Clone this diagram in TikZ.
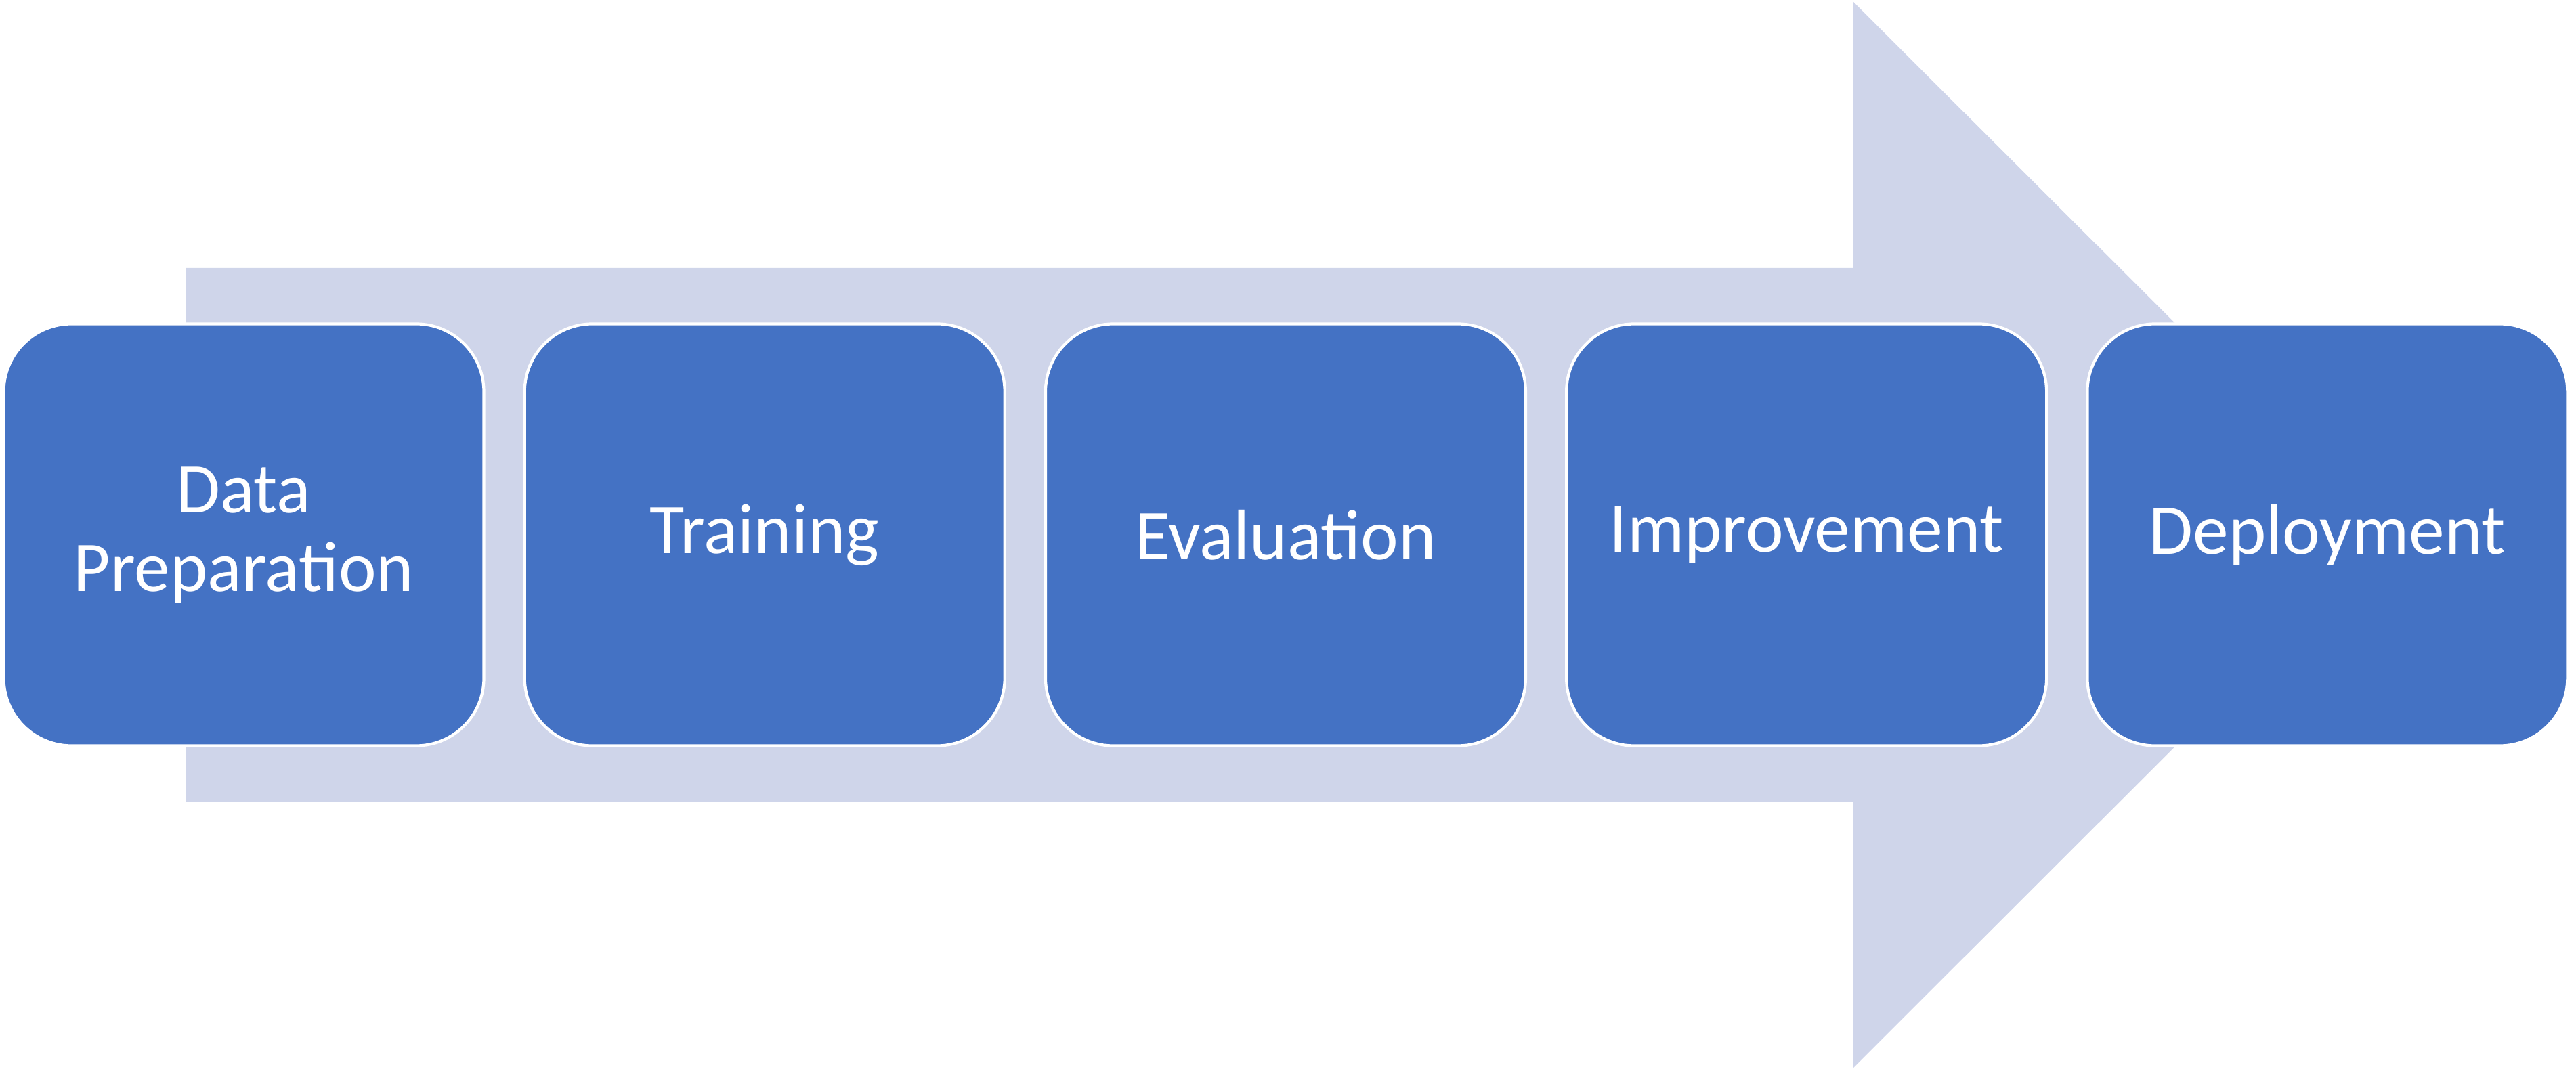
\documentclass[tikz,border=0pt]{standalone}
\usepackage{fontspec}
\setsansfont{Carlito}
\usepackage{tikz}
\usetikzlibrary{positioning,backgrounds}
\tikzstyle{every picture}+=[font=\sffamily]
\definecolor{phaseblue}{HTML}{4472C4}
\definecolor{flowgrey}{HTML}{CFD5EA}

\begin{document}
\begin{tikzpicture}
		[scale=1, font=\sffamily\fontsize{30}{33}\selectfont, inner sep=0pt,
		phase/.style	= {draw=white, line width=1.2pt, fill=phaseblue, text=white, rounded corners=10mm, align=center, minimum width=70.9mm, minimum height=62.3mm},
		flow/.style		= {fill=flowgrey}]
		
		\useasboundingbox (0,0) rectangle (38.04,15.81);
		
		\node [phase]	at (3.6,7.91)		(1)	{Data\\Preparation};
		\node [phase]	[right = 5.6mm of 1]	(2)	{Training};
		\node [phase]	[right = 5.6mm of 2]	(3)	{Evaluation};
		\node [phase]	[right = 5.6mm of 3]	(4)	{Improvement};
		\node [phase]	[right = 5.6mm of 4]	(5)	{Deployment};
		
		\begin{scope}[on background layer]
		\fill [flow] (2.74,11.85) -- (27.36,11.85) -- (27.36,15.79) -- (35.25,7.91)
			-- (27.36,0.03) -- (27.36,3.97) -- (2.74,3.97) -- cycle;
		\end{scope}
		\end{tikzpicture}
\end{document}
